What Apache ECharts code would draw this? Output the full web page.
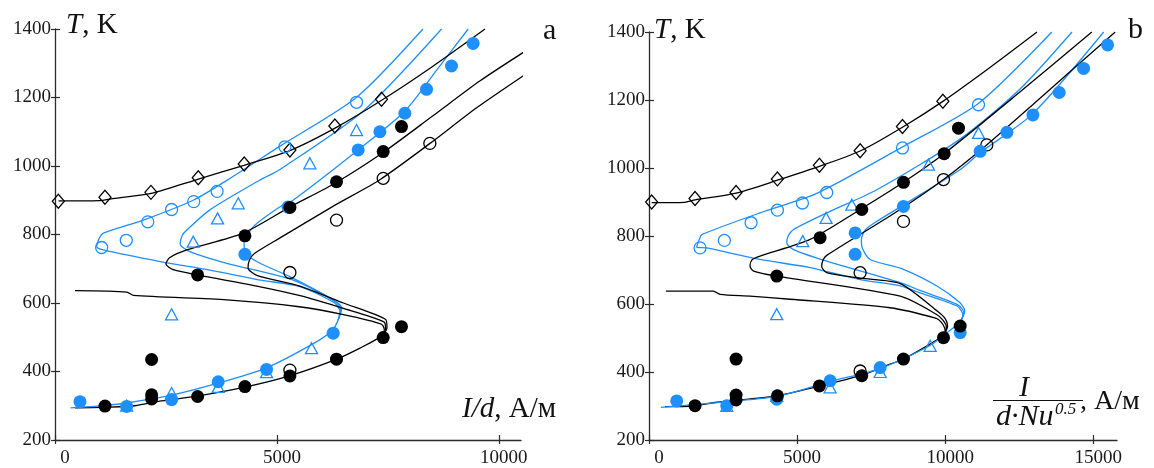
<!DOCTYPE html>
<html><head><meta charset="utf-8">
<script src="https://cdn.jsdelivr.net/npm/echarts@6/dist/echarts.min.js"></script>
<style>html,body{margin:0;padding:0;background:#fff}#c{width:1154px;height:468px}</style>
</head><body><div id="c"></div>
<script>
// ---------- tick labels ----------
const yTicks = [200, 400, 600, 800, 1000, 1200, 1400];
const aXTicks = [0, 5000, 10000];
const bXTicks = [0, 5000, 10000, 15000];

// ---------- panel a : I/d ----------
const aBlackLower = [[450,294],[1200,296],[1800,300],[2400,314],[3200,328],[4300,355],[5300,388],[6350,436],[6900,470],[7300,498],[7400,508]];
const aB1Mid = [[7400,508],[7420,522],[7360,538],[6500,566],[5500,589],[3870,609],[1770,622],[1620,632],[450,636]];
const aB1Upper = [[80,898],[1000,899],[1300,905],[2200,921],[3230,962],[4260,1002],[5290,1045],[6300,1110],[7360,1192],[8500,1290],[9690,1400]];
const aB2 = [[7400,508],[7450,525],[7410,545],[6500,584],[5500,622],[4600,648],[3200,682],[2650,698],[2500,714],[2580,732],[2970,755],[4240,804],[5290,880],[6340,952],[7400,1040],[8500,1145],[9570,1248],[10580,1334]];
const aB3 = [[7400,508],[7480,528],[7450,552],[6500,600],[5500,650],[4560,680],[4350,702],[4380,725],[4500,745],[5070,790],[6300,885],[7320,960],[8450,1066],[9500,1170],[10580,1266]];
const aBlueLower = [[350,294],[900,298],[1600,308],[2600,330],[3650,365],[4750,410],[5800,480],[6250,520],[6380,550]];
const aC1 = [[6380,550],[6420,575],[6300,600],[5520,648],[4620,667],[3490,696],[2370,721],[1090,755],[940,765],[1000,790],[1090,804],[1990,842],[3115,900],[3870,958],[5070,1058],[6790,1200],[8290,1400]];
const aC2 = [[6380,550],[6440,580],[6320,603],[5370,667],[3870,716],[3040,750],[2820,772],[2870,798],[2970,813],[3490,872],[4620,959],[5070,990],[6940,1160],[8710,1400]];
const aC3 = [[6380,550],[6460,585],[6270,609],[5290,677],[4620,716],[4290,745],[4260,775],[4470,823],[5070,881],[5370,901],[6830,1047],[7880,1160],[8600,1280],[9310,1400]];

const aBlackDots = [[1126,299],[2177,320],[2177,332],[2177,435],[3213,327],[4279,356],[5293,387],[6343,436],[7395,499],[7807,531],[3213,682],[4279,796],[5293,879],[6343,954],[7395,1042],[7807,1115]];
const aBlackOpen = [[5293,404],[5293,689],[6343,842],[7395,964],[8446,1066]];
const aBlueDots = [[563,312],[1614,298],[2627,318],[3678,370],[4767,406],[6268,512],[4279,742],[5250,880],[6831,1047],[7320,1100],[7883,1154],[8371,1224],[8934,1292],[9421,1358]];
const aBlueOpen = [[1051,762],[1606,783],[2090,837],[2627,873],[3126,896],[3652,926],[5180,1056],[6794,1186]];
const aBlueTri = [[1614,300],[2627,337],[3678,355],[4767,398],[5780,468],[2627,567],[3115,779],[3663,847],[4129,891],[5743,1008],[6794,1105]];
const aDiamonds = [[75,897],[1126,909],[2162,923],[3228,966],[4264,1006],[5293,1047],[6306,1117],[7357,1195]];

// ---------- panel b : I/(d·Nu^0.5) ----------
const bBlackLower = [[540,298],[1500,300],[2290,311],[4310,330],[5780,359],[7130,389],[8140,423],[8590,438],[9490,482],[9900,505],[10000,515]];
const bB1Mid = [[10000,515],[9980,530],[9850,548],[9700,558],[8140,589],[4760,614],[3410,623],[2400,628],[2170,638],[570,638]];
const bB1Upper = [[90,898],[1200,899],[1554,906],[2939,926],[4335,964],[5753,1005],[7128,1050],[8557,1120],[9921,1196],[11500,1295],[13100,1400]];
const bB2 = [[10000,515],[10040,532],[9930,552],[9700,570],[8480,623],[4310,682],[3530,697],[3410,712],[3480,730],[3750,741],[5440,790],[7130,878],[8590,958],[9960,1042],[12500,1222],[14950,1400]];
const bB3 = [[10000,515],[10080,535],[10000,557],[9750,578],[8480,660],[7130,676],[6000,692],[5830,711],[5880,730],[6000,743],[8480,878],[9940,966],[11400,1068],[13000,1190],[15740,1400]];
const bBlueLower = [[400,296],[2290,310],[4310,328],[6110,372],[7800,410],[9490,478],[10200,525],[10500,545]];
const bC1 = [[10500,545],[10600,568],[10400,594],[9150,633],[8480,653],[7130,672],[5440,707],[3750,731],[1950,765],[1610,767],[1700,790],[1780,804],[3750,868],[5440,917],[6570,966],[8560,1062],[11120,1190],[13600,1400]];
const bC2 = [[10500,545],[10630,575],[10420,598],[9150,640],[8480,663],[6000,726],[4880,760],[4650,780],[4700,800],[4880,819],[6000,868],[7690,936],[10500,1085],[12500,1230],[14280,1400]];
const bC3 = [[10500,545],[10660,580],[10500,604],[9720,653],[8590,702],[7470,731],[7200,765],[7170,790],[7300,818],[7690,843],[8700,897],[10500,995],[11180,1045],[12960,1160],[15350,1400]];

const bBlackDots = [[1554,301],[2939,318],[2939,332],[2939,438],[4335,330],[5753,359],[7184,389],[8591,438],[9942,501],[10506,535],[4313,682],[5776,795],[7184,878],[8591,958],[9965,1042],[10449,1117]];
const bBlackOpen = [[7128,403],[7128,692],[8591,843],[9942,966],[11405,1068]];
const bBlueDots = [[935,315],[2625,301],[4313,320],[6114,374],[7804,413],[10506,516],[6959,746],[6959,809],[8591,887],[11180,1049],[12083,1105],[12961,1156],[13850,1222],[14671,1293],[15482,1362]];
const bBlueOpen = [[1723,765],[2544,787],[3446,839],[4335,876],[5179,897],[6001,928],[8557,1059],[11124,1186]];
const bBlueTri = [[2625,300],[4313,330],[6114,355],[7804,400],[9492,477],[4313,570],[5190,785],[5979,853],[6847,892],[9435,1010],[11124,1103]];
const bDiamonds = [[90,900],[1554,910],[2939,928],[4335,968],[5753,1008],[7128,1051],[8557,1122],[9921,1196]];

// ---------- styling ----------
const BLACK = '#000000';
const BLUE = '#1E8FFF';
const AX = '#2b2b2b';
const FONT = '"Liberation Serif", "Times New Roman", serif';

function xAxes(grid, max, ticks) {
  const lbl = {
    show: true, customValues: ticks, margin: 9, color: '#1a1a1a', fontFamily: FONT, fontSize: 19,
    formatter: v => v === 0 ? '{z|0}' : '{n|' + String(v) + '}',
    rich: { z: { padding: [0,0,0,20], fontFamily: FONT, fontSize: 19, color: '#1a1a1a' },
            n: { padding: [0,0,0,10], fontFamily: FONT, fontSize: 19, color: '#1a1a1a' } }
  };
  return [
    { type: 'value', gridIndex: grid, min: 0, max: max, interval: 5000, position: 'bottom',
      axisLine: { show: true, onZero: false, lineStyle: { color: AX, width: 1.3 } },
      axisTick: { show: true, inside: false, length: 4, customValues: ticks, lineStyle: { color: AX, width: 1.2 } },
      axisLabel: lbl, splitLine: { show: false } },
    { type: 'value', gridIndex: grid, min: 0, max: max, interval: 5000, position: 'bottom',
      axisLine: { show: false }, axisLabel: { show: false }, splitLine: { show: false },
      axisTick: { show: true, inside: true, length: 5, customValues: ticks, lineStyle: { color: AX, width: 1.2 } } }
  ];
}
function yAxes(grid) {
  return [
    { type: 'value', gridIndex: grid, min: 200, max: 1400, interval: 200, position: 'left',
      axisLine: { show: true, onZero: false, lineStyle: { color: AX, width: 1.3 } },
      axisTick: { show: true, inside: false, length: 4, customValues: yTicks, lineStyle: { color: AX, width: 1.2 } },
      axisLabel: { show: true, customValues: yTicks, margin: 4, color: '#1a1a1a', fontFamily: FONT, fontSize: 19,
        formatter: v => String(v) },
      splitLine: { show: false } },
    { type: 'value', gridIndex: grid, min: 200, max: 1400, interval: 200, position: 'left',
      axisLine: { show: false }, axisLabel: { show: false }, splitLine: { show: false },
      axisTick: { show: true, inside: true, length: 5, customValues: yTicks, lineStyle: { color: AX, width: 1.2 } } }
  ];
}

function line(data, color, xi, yi) {
  return { type: 'line', data: data, xAxisIndex: xi, yAxisIndex: yi, showSymbol: false, symbol: 'none',
    smooth: 0.25, lineStyle: { color: color, width: 1.3 }, silent: true, z: 2, animation: false };
}
function marks(data, symbol, size, color, filled, xi, yi) {
  return { type: 'scatter', data: data, xAxisIndex: xi, yAxisIndex: yi, symbol: symbol, symbolSize: size,
    itemStyle: filled ? { color: color, opacity: 1 } : { color: 'rgba(255,255,255,0)', borderColor: color, borderWidth: 1.3, opacity: 1 },
    z: 5, animation: false, silent: true };
}

function panel(xi, yi, P) {
  return [
    line(P.blackLower, BLACK, xi, yi), line(P.blueLower, BLUE, xi, yi),
    line(P.c1, BLUE, xi, yi), line(P.c2, BLUE, xi, yi), line(P.c3, BLUE, xi, yi),
    line(P.b1Mid, BLACK, xi, yi), line(P.b1Up, BLACK, xi, yi), line(P.b2, BLACK, xi, yi), line(P.b3, BLACK, xi, yi),
    marks(P.diam, 'diamond', [12, 14], BLACK, false, xi, yi),
    marks(P.blueOpen, 'circle', 12, BLUE, false, xi, yi),
    marks(P.blueTri, 'triangle', [12, 11], BLUE, false, xi, yi),
    marks(P.blackOpen, 'circle', 12, BLACK, false, xi, yi),
    marks(P.blueDots, 'circle', 13, BLUE, true, xi, yi),
    marks(P.blackDots, 'circle', 13, BLACK, true, xi, yi)
  ];
}

const series = [].concat(
  panel(0, 0, { blackLower: aBlackLower, blueLower: aBlueLower, c1: aC1, c2: aC2, c3: aC3,
    b1Mid: aB1Mid, b1Up: aB1Upper, b2: aB2, b3: aB3, diam: aDiamonds, blueOpen: aBlueOpen,
    blueTri: aBlueTri, blackOpen: aBlackOpen, blueDots: aBlueDots, blackDots: aBlackDots }),
  panel(2, 2, { blackLower: bBlackLower, blueLower: bBlueLower, c1: bC1, c2: bC2, c3: bC3,
    b1Mid: bB1Mid, b1Up: bB1Upper, b2: bB2, b3: bB3, diam: bDiamonds, blueOpen: bBlueOpen,
    blueTri: bBlueTri, blackOpen: bBlackOpen, blueDots: bBlueDots, blackDots: bBlackDots })
);

function txt(x, y, text, size, rich, align) {
  return { type: 'text', x: x, y: y, silent: true,
    style: { text: text, font: size + 'px ' + FONT, fill: '#111', textAlign: align || 'left', textVerticalAlign: 'middle', rich: rich || {} } };
}
const ital = (s) => ({ fontStyle: 'italic', fontSize: s, fontFamily: FONT, fill: '#111' });
const upr = (s) => ({ fontSize: s, fontFamily: FONT, fill: '#111' });

const graphic = [
  txt(66, 25, '{i|T}{u|, K}', 29, { i: ital(29), u: upr(29) }),
  txt(654, 30, '{i|T}{u|, K}', 29, { i: ital(29), u: upr(29) }),
  txt(543, 31, 'a', 30),
  txt(1128, 30, 'b', 30),
  txt(462, 409, '{i|I/d}{u|, А/м}', 29, { i: ital(29), u: upr(29) }),
  txt(1024, 388, '{i|I}', 29, { i: ital(29) }, 'center'),
  { type: 'line', silent: true, shape: { x1: 993, y1: 400.5, x2: 1083, y2: 400.5 }, style: { stroke: '#111', lineWidth: 1.2 } },
  txt(996, 417, '{i|d·Nu}', 30, { i: ital(30) }),
  txt(1055, 410, '{i|0.5}', 17, { i: ital(17) }),
  txt(1080, 402, '{u|, А/м}', 28, { u: upr(28) })
];

const chart = echarts.init(document.getElementById('c'), null, { renderer: 'canvas' });
chart.setOption({
  animation: false,
  backgroundColor: '#ffffff',
  grid: [
    { left: 55, top: 29, width: 466, height: 411, containLabel: false },
    { left: 649, top: 32, width: 468, height: 409, containLabel: false }
  ],
  xAxis: [].concat(xAxes(0, 10500, aXTicks), xAxes(1, 15800, bXTicks)),
  yAxis: [].concat(yAxes(0), yAxes(1)),
  series: series,
  graphic: graphic
});
</script></body></html>
